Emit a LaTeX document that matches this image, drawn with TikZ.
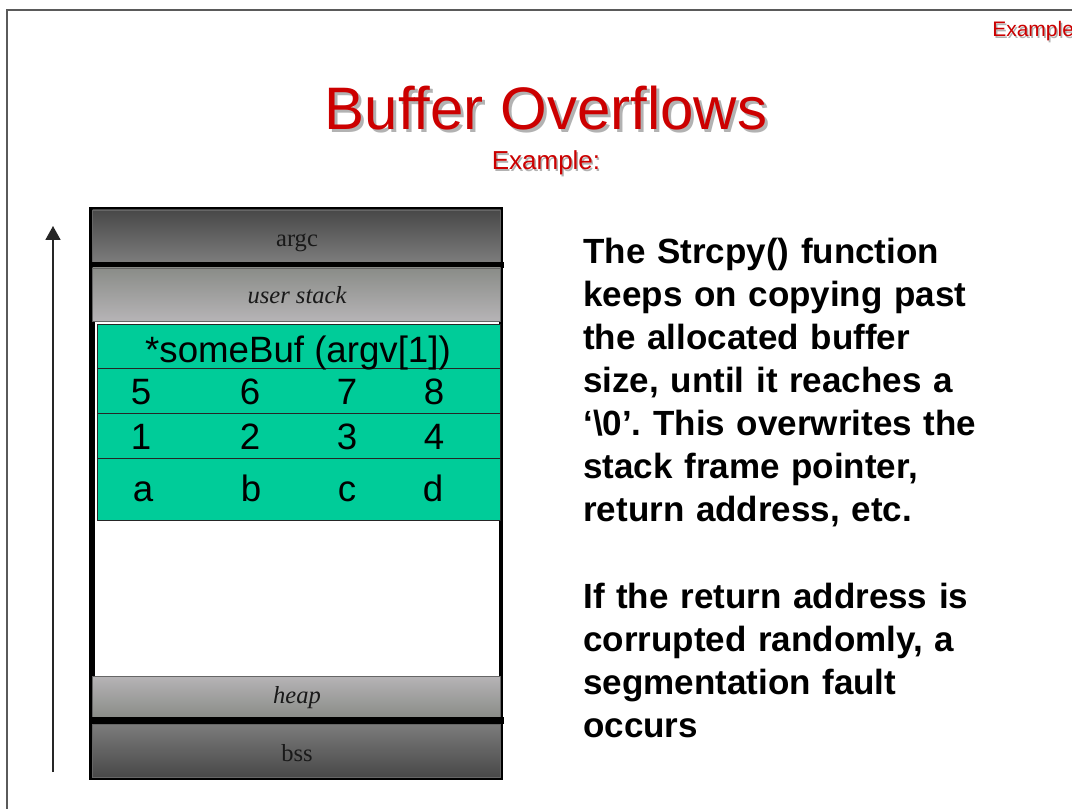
\documentclass[tikz,border=0pt]{standalone}
\usepackage{fontspec}
\setmainfont{Liberation Sans}
\newfontfamily\labelserif{Liberation Serif}
\usetikzlibrary{arrows.meta,fit}
\frenchspacing

\definecolor{slidered}{RGB}{204,0,0}
\definecolor{shadowgray}{RGB}{178,178,178}
\definecolor{framegray}{RGB}{90,90,90}
\definecolor{bufgreen}{RGB}{0,204,153}
\definecolor{darkband}{RGB}{72,72,72}
\definecolor{midband}{RGB}{124,124,124}
\definecolor{lightbandtop}{RGB}{138,140,136}
\definecolor{lightbandbot}{RGB}{182,180,182}

\tikzset{
  region/.style={inner sep=0pt, outer sep=0pt},
  darkdown/.style={region, top color=darkband, bottom color=midband, draw=black!60, line width=0.5pt},
  darkup/.style={region, top color=midband, bottom color=darkband, draw=black!60, line width=0.5pt},
  lightdown/.style={region, top color=lightbandtop, bottom color=lightbandbot, draw=black!60, line width=0.5pt},
  lightup/.style={region, top color=lightbandbot, bottom color=lightbandtop, draw=black!60, line width=0.5pt},
  bufrow/.style={region, fill=bufgreen, draw=black!85, line width=0.6pt},
  bar/.style={region, fill=black},
  seglabel/.style={inner sep=0pt, anchor=base, text=black!90, font=\labelserif\fontsize{18.4pt}{22pt}\selectfont},
  cell/.style={inner sep=0pt, anchor=base, text=black, font=\fontsize{27.5pt}{32pt}\selectfont},
  body/.style={inner sep=0pt, anchor=base west, text width=340pt, align=left,
    font=\fontsize{26.25pt}{32.25pt}\selectfont\bfseries},
}

\begin{document}
\begin{tikzpicture}[x=0.75pt,y=-0.75pt]
\useasboundingbox (0,0) rectangle (1072,809);
\fill[white] (0,0) rectangle (1072,809);

% slide frame
\coordinate (frameBL) at (7,809);
\coordinate (frameTL) at (7,10);
\coordinate (frameTR) at (1072,10);
\draw[framegray, line width=1.2pt] (frameBL) -- (frameTL) -- (frameTR);

% header
\node[inner sep=0pt, anchor=base west, text=shadowgray, font=\fontsize{15.75pt}{18pt}\selectfont] (tagshadow) at (993.5,38.5) {Example};
\node[inner sep=0pt, anchor=base west, text=slidered, font=\fontsize{15.75pt}{18pt}\selectfont] (tag) at (992,37) {Example};
\node[inner sep=0pt, anchor=base, text=shadowgray, font=\fontsize{45pt}{50pt}\selectfont] (titleshadow) at (549,133) {Buffer Overflows};
\node[inner sep=0pt, anchor=base, text=slidered, font=\fontsize{45pt}{50pt}\selectfont] (title) at (546,130) {Buffer Overflows};
\node[inner sep=0pt, anchor=base, text=shadowgray, font=\fontsize{19.5pt}{22pt}\selectfont] (subshadow) at (547.5,171.5) {Example:};
\node[inner sep=0pt, anchor=base, text=slidered, font=\fontsize{19.5pt}{22pt}\selectfont] (subtitle) at (546,170) {Example:};

% growth arrow
\coordinate (arrowfoot) at (53,772);
\coordinate (arrowtip) at (53,226);
\draw[black!85, line width=1.3pt, -{Triangle[width=11.25pt,length=10.5pt]}] (arrowfoot) -- (arrowtip);

% memory layout frame
\node[bar, fit={(89,207) (503,780)}] (frame) {};
\node[region, fill=white, fit={(95,321) (498.5,676)}] (freespace) {};

\node[darkdown, fit={(92.5,210) (500.5,262)}] (argc) {};
\node[bar, fit={(89,262) (504,268)}] (topbar) {};
\node[lightdown, fit={(92.5,268) (500.5,321)}] (ustack) {};
\node[lightup, fit={(92.5,676) (500.5,717)}] (heap) {};
\node[bar, fit={(89,717) (504,724)}] (lowbar) {};
\node[darkup, fit={(92.5,724) (500.5,777)}] (bss) {};

\node[seglabel] (argcText) at (297,246.5) {argc};
\node[seglabel] (ustackText) at (297,304) {\itshape user stack};
\node[seglabel] (heapText) at (297,703) {\itshape heap};
\node[seglabel] (bssText) at (297,761.5) {bss};

% buffer rows
\node[bufrow, fit={(97.7,324) (500.7,368.7)}] (ptrrow) {};
\node[bufrow, fit={(97.7,368.7) (500.7,413.7)}] (rowA) {};
\node[bufrow, fit={(97.7,413.7) (500.7,458)}] (rowB) {};
\node[bufrow, fit={(97.7,458) (500.7,520.7)}] (rowC) {};

\node[cell] (ptrText) at (298,363) {*someBuf (argv[1])};
\node[cell] (a5) at (141,405) {5};
\node[cell] (a6) at (250,405) {6};
\node[cell] (a7) at (347,405) {7};
\node[cell] (a8) at (434,405) {8};
\node[cell] (b1) at (141,450) {1};
\node[cell] (b2) at (250,450) {2};
\node[cell] (b3) at (347,450) {3};
\node[cell] (b4) at (434,450) {4};
\node[cell] (ca) at (143,501) {a};
\node[cell] (cb) at (251,501) {b};
\node[cell] (cc) at (347,501) {c};
\node[cell] (cd) at (433,501) {d};

% explanation
\node[body] (para1) at (583,264) {The Strcpy() function\\
keeps on copying past\\
the allocated buffer\\
size, until it reaches a\\
‘\textbackslash 0’. This overwrites the\\
stack frame pointer,\\
return address, etc.};
\node[body] (para2) at (583,608) {If the return address is\\
corrupted randomly, a\\
segmentation fault\\
occurs};
\end{tikzpicture}
\end{document}
